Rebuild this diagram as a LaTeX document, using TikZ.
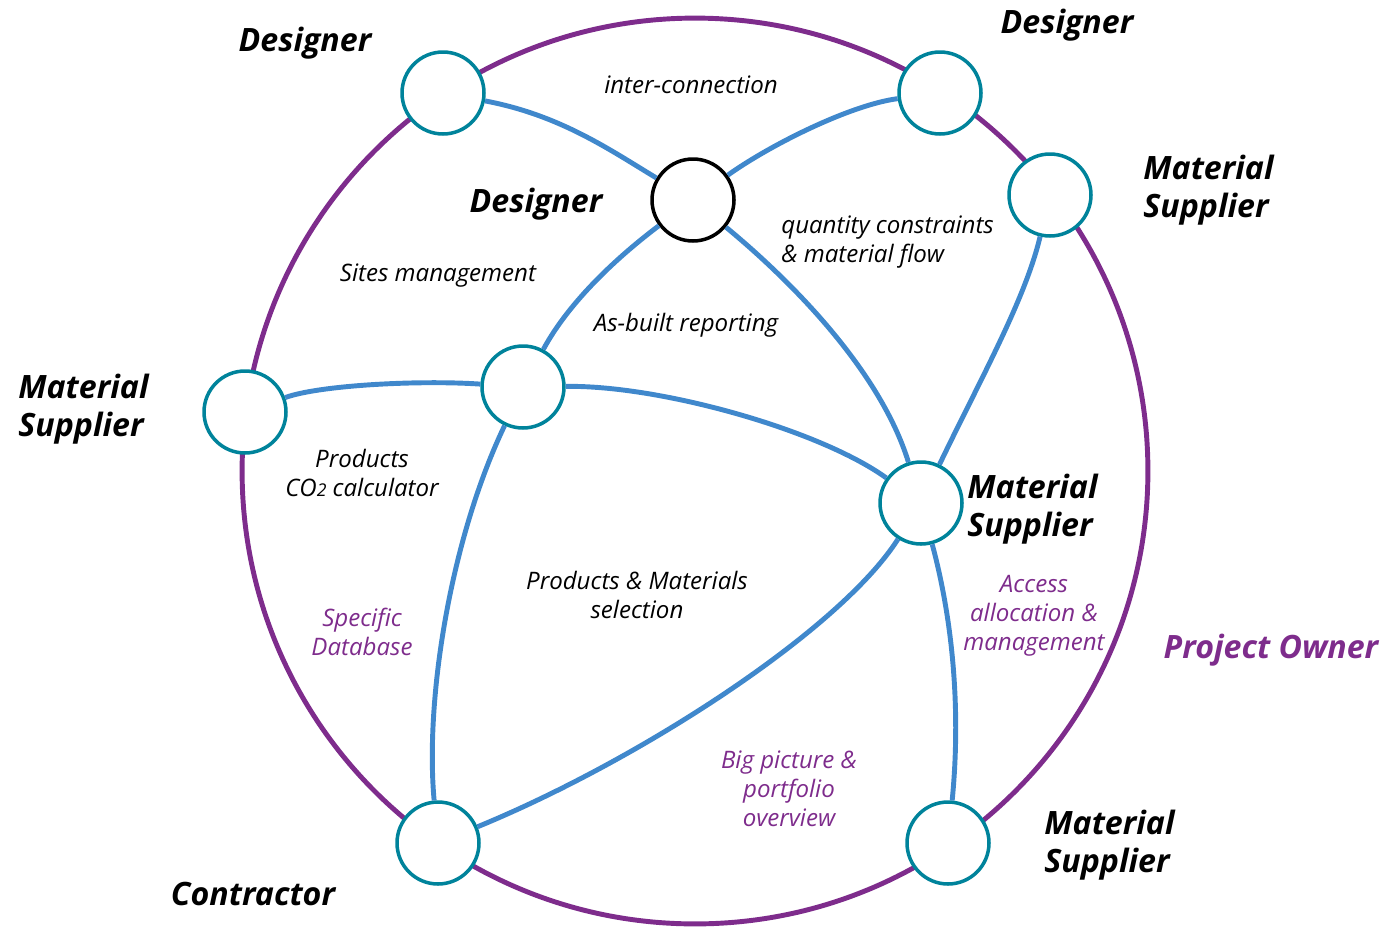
\documentclass[tikz,border=0pt]{standalone}
\usepackage{fontspec}
\setmainfont{Open Sans}
\definecolor{ownerpurple}{RGB}{126,44,140}
\definecolor{nodeteal}{RGB}{0,131,155}
\definecolor{linkblue}{RGB}{64,136,204}
\begin{document}
\begin{tikzpicture}[x=0.02cm,y=-0.02cm,
  main node/.style={circle,draw=nodeteal,fill=white,line width=2pt,minimum size=1.64cm,inner sep=0pt},
  hub node/.style={main node,draw=black},
  link/.style={linkblue,line width=2.8pt},
  role/.style={font=\fontsize{18.3}{21.5}\selectfont\bfseries\itshape,align=left,inner sep=0pt},
  note/.style={font=\fontsize{13.7}{16.4}\selectfont\itshape,align=center,inner sep=0pt},
  pnote/.style={note,text=ownerpurple}]

  \useasboundingbox (0,0) rectangle (1385,927);
  \draw[ownerpurple,line width=2.8pt] (695,471) circle [radius=9.06cm];

  \node[main node] (d1) at (443,93) {};
  \node[main node] (d2) at (940,93) {};
  \node[main node] (ms1) at (1050,195) {};
  \node[main node] (ms2) at (245,412) {};
  \node[main node] (c) at (438,843) {};
  \node[main node] (ms3) at (948,843) {};
  \node[hub node] (hub) at (693,200) {};
  \node[main node] (in) at (523,387) {};
  \node[main node] (msc) at (921,503) {};

  % links
  \draw[link] (d1) .. controls (560,115) and (610,150) .. (hub);
  \draw[link] (d2) .. controls (850,105) and (770,145) .. (hub);
  \draw[link] (hub) .. controls (620,255) and (570,300) .. (in);
  \draw[link] (hub) .. controls (790,280) and (880,370) .. (msc);
  \draw[link] (ms1) .. controls (1025,300) and (980,380) .. (msc);
  \draw[link] (ms2) .. controls (320,385) and (420,380) .. (in);
  \draw[link] (in) .. controls (660,385) and (820,430) .. (msc);
  \draw[link] (in) .. controls (450,540) and (425,700) .. (c);
  \draw[link] (msc) .. controls (840,630) and (640,760) .. (c);
  \draw[link] (msc) .. controls (950,610) and (962,700) .. (ms3);

  % roles
  \node[role] (ld1) at (305,43) {Designer};
  \node[role] (ld2) at (1067,25) {Designer};
  \node[role,anchor=west] (lms1) at (1143,190) {Material\\Supplier};
  \node[role,anchor=west] (lms2) at (18,409) {Material\\Supplier};
  \node[role] (lhub) at (536,204) {Designer};
  \node[role,anchor=west] (lmsc) at (967,509) {Material\\Supplier};
  \node[role] (lc) at (253,894) {Contractor};
  \node[role,anchor=west] (lms3) at (1044,845) {Material\\Supplier};
  \node[role,text=ownerpurple] (lpo) at (1271,650) {Project Owner};

  % notes
  \node[note] (n1) at (691,85) {inter-connection};
  \node[note,align=left,anchor=west] (n2) at (781,242) {quantity constraints\\\& material flow};
  \node[note] (n3) at (438,276) {Sites management};
  \node[note] (n4) at (686,325) {As-built reporting};
  \node[note] (n5) at (362,473) {Products\\CO{\fontsize{10}{10}\selectfont 2} calculator};
  \node[note] (n6) at (637,595) {Products \& Materials\\selection};
  \node[pnote] (n7) at (362,632) {Specific\\Database};
  \node[pnote] (n8) at (1034,616) {Access\\allocation \&\\management};
  \node[pnote] (n9) at (789,789) {Big picture \&\\portfolio\\overview};
\end{tikzpicture}
\end{document}
